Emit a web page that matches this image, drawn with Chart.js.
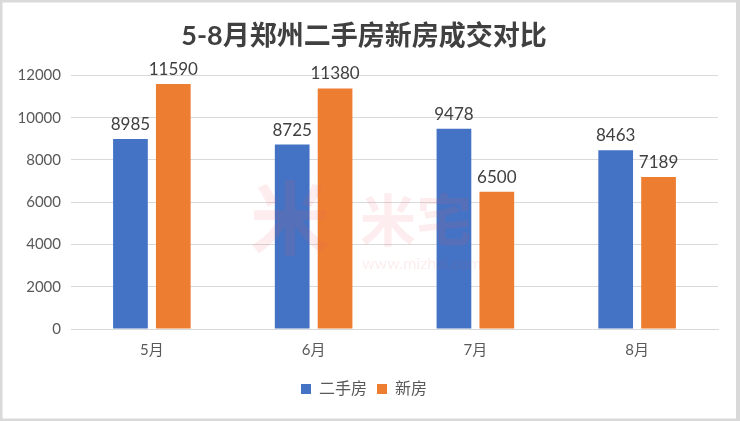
<!DOCTYPE html>
<html>
<head>
<meta charset="utf-8">
<script src="https://cdn.jsdelivr.net/npm/chart.js@4"></script>
<style>
  html, body { margin: 0; padding: 0; background: #fff; }
  #wrap { position: relative; width: 740px; height: 421px; }
</style>
</head>
<body>
<div id="wrap"><canvas id="chart" width="740" height="421"></canvas></div>
<script>
// ---- data ----
const months    = ["5月", "6月", "7月", "8月"];
const resale    = [8985, 8725, 9478, 8463];   // 二手房
const newHomes  = [11590, 11380, 6500, 7189]; // 新房
const yTicks    = [0, 2000, 4000, 6000, 8000, 10000, 12000];

const BLUE   = "#4472C4";
const ORANGE = "#ED7D31";
const FONT   = "Lato, 'Noto Sans CJK SC', sans-serif";

// frame + white background
const framePlugin = {
  id: "frame",
  beforeDraw(chart) {
    const ctx = chart.ctx;
    ctx.save();
    ctx.fillStyle = "#fff";
    ctx.fillRect(0, 0, chart.width, chart.height);
    ctx.strokeStyle = "#d9d9d9";
    ctx.lineWidth = 3;
    ctx.strokeRect(1, 1, chart.width - 2, chart.height - 2);
    ctx.fillStyle = "#d9d9d9";
    ctx.fillRect(chart.width - 4, 0, 4, chart.height);
    ctx.restore();
  }
};

// value labels above bars
const labelPlugin = {
  id: "valueLabels",
  afterDatasetsDraw(chart) {
    const ctx = chart.ctx;
    ctx.save();
    ctx.font = "17px " + FONT;
    ctx.fillStyle = "#404040";
    ctx.textAlign = "center";
    ctx.textBaseline = "bottom";
    chart.data.datasets.forEach((ds, i) => {
      chart.getDatasetMeta(i).data.forEach((bar, j) => {
        ctx.fillText(ds.data[j], bar.x, bar.y - 6);
      });
    });
    ctx.restore();
  }
};

// faint site watermark
const watermarkPlugin = {
  id: "watermark",
  afterDatasetsDraw(chart) {
    const ctx = chart.ctx;
    ctx.save();
    ctx.fillStyle = "rgba(240, 90, 100, 0.11)";
    ctx.textAlign = "left";
    ctx.textBaseline = "middle";
    ctx.font = "bold 80px 'Noto Sans CJK SC'";
    ctx.fillText("米", 250, 218);
    ctx.font = "bold 56px 'Noto Sans CJK SC'";
    ctx.fillText("米宅", 360, 220);
    ctx.font = "16px " + FONT;
    ctx.fillText("www.mizhai.com", 362, 264);
    ctx.restore();
  }
};

new Chart(document.getElementById("chart"), {
  type: "bar",
  data: {
    labels: months,
    datasets: [
      { label: "二手房", data: resale,   backgroundColor: BLUE },
      { label: "新房",   data: newHomes, backgroundColor: ORANGE }
    ]
  },
  options: {
    responsive: false,
    animation: false,
    datasets: { bar: { categoryPercentage: 0.53, barPercentage: 0.81 } },
    layout: { padding: { left: 10, right: 22, top: 0, bottom: 14 } },
    plugins: {
      title: {
        display: true,
        text: "5-8月郑州二手房新房成交对比",
        color: "#404040",
        font: { family: FONT, size: 27, weight: "bold" },
        padding: { top: 20, bottom: 23 }
      },
      legend: {
        position: "bottom",
        labels: {
          boxWidth: 10,
          boxHeight: 10,
          padding: 10,
          color: "#595959",
          font: { family: FONT, size: 16 }
        }
      },
      tooltip: { enabled: false }
    },
    scales: {
      x: {
        grid: { display: false, drawTicks: false },
        border: { color: "#d9d9d9", width: 1 },
        ticks: { color: "#595959", font: { family: FONT, size: 15 }, padding: 12 }
      },
      y: {
        min: 0,
        max: 12000,
        afterFit(scale) { scale.width = 61; },
        afterBuildTicks(scale) { scale.ticks = yTicks.map(v => ({ value: v })); },
        grid: { color: "#d9d9d9", drawTicks: false },
        border: { display: false },
        ticks: {
          color: "#595959",
          font: { family: FONT, size: 15 },
          padding: 10,
          callback: v => String(v)
        }
      }
    }
  },
  plugins: [framePlugin, labelPlugin, watermarkPlugin]
});
</script>
</body>
</html>
